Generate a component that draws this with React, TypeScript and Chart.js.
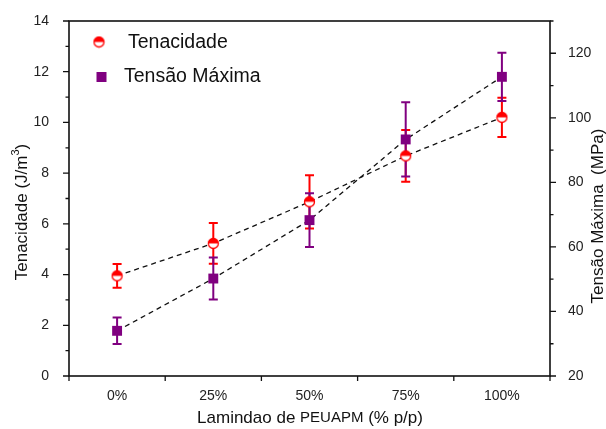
import React, { useEffect, useRef } from 'react';
import { Chart, registerables } from 'chart.js';

Chart.register(...registerables);

const categories = ['0%', '25%', '50%', '75%', '100%'];
const tenacidade = [3.95, 5.23, 6.87, 8.68, 10.2];
const tenacidadeErr = [0.47, 0.8, 1.05, 1.02, 0.77];
const tensao = [34.0, 50.2, 68.3, 93.3, 112.7];
const tensaoErr = [4.1, 6.5, 8.3, 11.5, 7.5];

const leftMajor = [0, 2, 4, 6, 8, 10, 12, 14];
const leftMinor = [1, 3, 5, 7, 9, 11, 13];
const rightMajor = [20, 40, 60, 80, 100, 120];
const rightMinor = [30, 50, 70, 90, 110, 130];
const xMinor = [-0.5, 0.5, 1.5, 2.5, 3.5, 4.5];

const RED = '#ff0000';
const PURPLE = '#800080';
const FONT = '"Liberation Sans", Arial, sans-serif';

function halfCircleMarker(r: number): HTMLCanvasElement {
  const c = document.createElement('canvas');
  const s = r * 2 + 3;
  c.width = s;
  c.height = s;
  const g = c.getContext('2d')!;
  const cx = s / 2, cy = s / 2;
  g.fillStyle = '#ffffff';
  g.beginPath();
  g.arc(cx, cy, r, 0, Math.PI * 2);
  g.fill();
  g.fillStyle = RED;
  g.beginPath();
  g.arc(cx, cy, r, Math.PI, Math.PI * 2);
  g.closePath();
  g.fill();
  g.strokeStyle = RED;
  g.lineWidth = 1.3;
  g.beginPath();
  g.arc(cx, cy, r, 0, Math.PI * 2);
  g.stroke();
  return c;
}

const decorPlugin = {
  id: 'decor',
  beforeDatasetsDraw(chart: any) {
    const ctx = chart.ctx;
    const xs = chart.scales.x;
    const drawErr = (vals: number[], errs: number[], sc: any, color: string) => {
      ctx.save();
      ctx.strokeStyle = color;
      ctx.lineWidth = 2;
      vals.forEach((v, i) => {
        const px = xs.getPixelForValue(i);
        const top = sc.getPixelForValue(v + errs[i]);
        const bot = sc.getPixelForValue(v - errs[i]);
        ctx.beginPath();
        ctx.moveTo(px, top);
        ctx.lineTo(px, bot);
        ctx.moveTo(px - 4.5, top);
        ctx.lineTo(px + 4.5, top);
        ctx.moveTo(px - 4.5, bot);
        ctx.lineTo(px + 4.5, bot);
        ctx.stroke();
      });
      ctx.restore();
    };
    drawErr(tenacidade, tenacidadeErr, chart.scales.y, RED);
    drawErr(tensao, tensaoErr, chart.scales.y1, PURPLE);
  },
  afterDraw(chart: any) {
    const ctx = chart.ctx;
    const a = chart.chartArea;
    const xs = chart.scales.x, ys = chart.scales.y, y1 = chart.scales.y1;
    ctx.save();
    ctx.strokeStyle = '#111';
    ctx.lineWidth = 1.6;
    ctx.strokeRect(a.left, a.top, a.right - a.left, a.bottom - a.top);
    ctx.lineWidth = 1.3;
    ctx.beginPath();
    leftMajor.forEach((v) => { const p = ys.getPixelForValue(v); ctx.moveTo(a.left - 6, p); ctx.lineTo(a.left, p); });
    leftMinor.forEach((v) => { const p = ys.getPixelForValue(v); ctx.moveTo(a.left - 3.5, p); ctx.lineTo(a.left, p); });
    rightMajor.forEach((v) => { const p = y1.getPixelForValue(v); ctx.moveTo(a.right, p); ctx.lineTo(a.right + 6, p); });
    rightMinor.forEach((v) => { const p = y1.getPixelForValue(v); ctx.moveTo(a.right, p); ctx.lineTo(a.right + 3.5, p); });
    xMinor.forEach((v) => { const p = xs.getPixelForValue(v); ctx.moveTo(p, a.bottom); ctx.lineTo(p, a.bottom + 5); });
    ctx.stroke();

    // axis titles
    ctx.fillStyle = '#111';
    ctx.textBaseline = 'middle';
    // left
    ctx.save();
    ctx.translate(22, 212);
    ctx.rotate(-Math.PI / 2);
    ctx.font = `17px ${FONT}`;
    const p1 = 'Tenacidade (J/m';
    const p3 = ')';
    const w1 = ctx.measureText(p1).width;
    const w3 = ctx.measureText(p3).width;
    ctx.font = `11px ${FONT}`;
    const w2 = ctx.measureText('3').width;
    let sx = -(w1 + w2 + w3) / 2;
    ctx.textAlign = 'left';
    ctx.font = `17px ${FONT}`;
    ctx.fillText(p1, sx, 0);
    ctx.font = `11px ${FONT}`;
    ctx.fillText('3', sx + w1, -6);
    ctx.font = `17px ${FONT}`;
    ctx.fillText(p3, sx + w1 + w2, 0);
    ctx.restore();
    // right
    ctx.save();
    ctx.translate(598, 216);
    ctx.rotate(-Math.PI / 2);
    ctx.font = `17px ${FONT}`;
    ctx.textAlign = 'center';
    ctx.fillText('Tensão Máxima  (MPa)', 0, 0);
    ctx.restore();
    // bottom
    const parts: [string, number][] = [['Lamindao de ', 17], ['PEUAPM', 15], [' (% p/p)', 17]];
    let total = 0;
    const widths = parts.map(([t, s]) => { ctx.font = `${s}px ${FONT}`; const w = ctx.measureText(t).width; total += w; return w; });
    let bx = 310 - total / 2;
    ctx.textAlign = 'left';
    parts.forEach(([t, s], i) => { ctx.font = `${s}px ${FONT}`; ctx.fillText(t, bx, 418); bx += widths[i]; });

    // legend
    const m = halfCircleMarker(5);
    ctx.drawImage(m, 99 - m.width / 2, 42 - m.height / 2);
    ctx.fillStyle = PURPLE;
    ctx.fillRect(96.5, 72, 10, 10);
    ctx.fillStyle = '#111';
    ctx.font = `19.5px ${FONT}`;
    ctx.fillText('Tenacidade', 128, 43);
    ctx.fillText('Tensão Máxima', 124, 77);
    ctx.restore();
  },
};

export default function App() {
  const ref = useRef<HTMLCanvasElement | null>(null);
  useEffect(() => {
    document.body.style.margin = '0';
    const marker = halfCircleMarker(5);
    const chart = new Chart(ref.current!, {
      type: 'line',
      data: {
        datasets: [
          {
            label: 'Tenacidade',
            data: tenacidade.map((v, i) => ({ x: i, y: v })),
            yAxisID: 'y',
            borderColor: '#111',
            borderWidth: 1.3,
            borderDash: [5, 4],
            pointStyle: marker,
            pointRadius: 5,
            fill: false,
          },
          {
            label: 'Tensão Máxima',
            data: tensao.map((v, i) => ({ x: i, y: v })),
            yAxisID: 'y1',
            borderColor: '#111',
            borderWidth: 1.3,
            borderDash: [5, 4],
            pointStyle: 'rect',
            pointRadius: 7,
            pointBackgroundColor: PURPLE,
            pointBorderColor: PURPLE,
            pointBorderWidth: 0,
            fill: false,
          },
        ],
      },
      options: {
        responsive: false,
        animation: false,
        layout: { padding: { top: 21, left: 0, right: 0, bottom: 0 } },
        plugins: { legend: { display: false }, tooltip: { enabled: false } },
        scales: {
          x: {
            type: 'linear',
            min: -0.5,
            max: 4.5,
            grid: { display: false },
            border: { display: false },
            afterBuildTicks: (s: any) => { s.ticks = categories.map((_, i) => ({ value: i })); },
            afterFit: (s: any) => { s.height = 53; },
            ticks: {
              padding: 4,
              color: '#222',
              font: { family: FONT, size: 14 },
              callback: (v: any) => categories[v as number] ?? '',
              maxRotation: 0,
            },
          },
          y: {
            position: 'left',
            min: 0,
            max: 14,
            grid: { display: false },
            border: { display: false },
            afterBuildTicks: (s: any) => { s.ticks = leftMajor.map((v) => ({ value: v })); },
            afterFit: (s: any) => { s.width = 69; },
            ticks: { padding: 12, color: '#222', font: { family: FONT, size: 14 } },
          },
          y1: {
            position: 'right',
            min: 20,
            max: 130,
            grid: { display: false },
            border: { display: false },
            afterBuildTicks: (s: any) => { s.ticks = rightMajor.map((v) => ({ value: v })); },
            afterFit: (s: any) => { s.width = 56; },
            ticks: { padding: 10, color: '#222', font: { family: FONT, size: 14 } },
          },
        },
      },
      plugins: [decorPlugin],
    } as any);
    return () => chart.destroy();
  }, []);
  return (
    <div style={{ width: 606, height: 429 }}>
      <canvas ref={ref} width={606} height={429} />
    </div>
  );
}
